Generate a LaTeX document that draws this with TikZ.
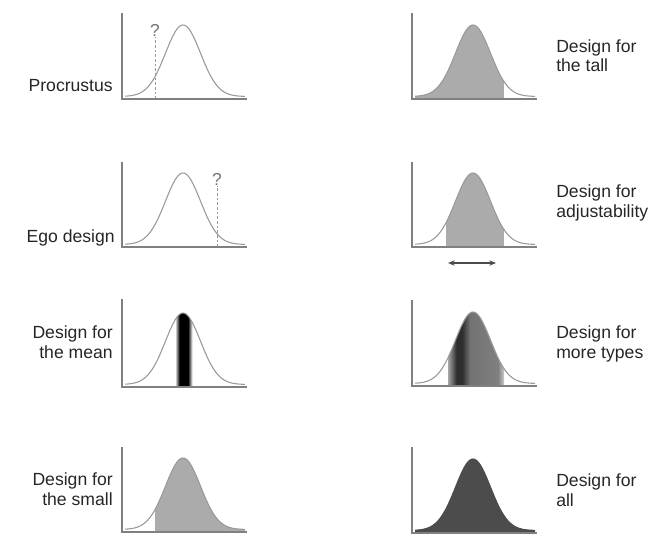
\documentclass[tikz,border=0pt]{standalone}
\usepackage{fontspec}
\setmainfont{Liberation Sans}
\usetikzlibrary{arrows.meta}
\definecolor{axisgray}{gray}{0.5}
\definecolor{curvegray}{gray}{0.6}
\definecolor{fillgray}{gray}{0.67}
\definecolor{darkfill}{gray}{0.3}
\tikzset{
  axisline/.style={draw=axisgray, line width=1.1pt},
  curveline/.style={draw=curvegray, line width=0.8pt},
  qline/.style={draw=curvegray, line width=0.6pt, dash pattern=on 2pt off 1.5pt},
  lbl/.style={font=\fontsize{13.2}{14.6}\selectfont, text=black!85, inner sep=0pt},
  qmark/.style={font=\fontsize{13}{14}\selectfont, text=black!55, inner sep=0pt},
}
\newcommand{\gausspath}{plot[domain=3:123, samples=80, smooth] (\x, {2.5+71.5*exp(-((\x-61)^2)/(2*17.5^2))})}
\begin{document}
\begin{tikzpicture}[x=0.75pt, y=-0.75pt]
\useasboundingbox (0,0) rectangle (664,535);

% ---------- Procrustus ----------
\begin{scope}[shift={(122,99)}, yscale=-1]
  \draw[curveline] \gausspath;
  \coordinate (q1a) at (33,0); \coordinate (q1b) at (33,62);
  \draw[qline] (q1a) -- (q1b);
  \node[qmark] (q1) at (33,69) {?};
  \coordinate (o1) at (0,0); \coordinate (t1) at (0,86); \coordinate (r1) at (125,0);
  \draw[axisline] (t1) -- (o1) -- (r1);
\end{scope}
\node[lbl, anchor=base east] (L1) at (113,92) {Procrustus};

% ---------- Ego design ----------
\begin{scope}[shift={(122,247)}, yscale=-1]
  \draw[curveline] \gausspath;
  \coordinate (q2a) at (95,0); \coordinate (q2b) at (95,61);
  \draw[qline] (q2a) -- (q2b);
  \node[qmark] (q2) at (95,68) {?};
  \coordinate (o2) at (0,0); \coordinate (t2) at (0,85); \coordinate (r2) at (125,0);
  \draw[axisline] (t2) -- (o2) -- (r2);
\end{scope}
\node[lbl, anchor=base east] (L2) at (115,242) {Ego design};

% ---------- Design for the mean ----------
\begin{scope}[shift={(122,387)}, yscale=-1]
  \begin{scope}
    \clip \gausspath -- (123,0) -- (3,0) -- cycle;
    \shade[left color=white, right color=black] (53,0) rectangle (57.5,80);
    \fill[black] (57.5,0) rectangle (66,80);
    \shade[left color=black, right color=white] (66,0) rectangle (70.5,80);
  \end{scope}
  \draw[curveline] \gausspath;
  \coordinate (o3) at (0,0); \coordinate (t3) at (0,88); \coordinate (r3) at (125,0);
  \draw[axisline] (t3) -- (o3) -- (r3);
\end{scope}
\node[lbl, anchor=base east, align=right] (L3) at (113,358) {Design for\\the mean};

% ---------- Design for the small ----------
\begin{scope}[shift={(122,532)}, yscale=-1]
  \begin{scope}
    \clip \gausspath -- (123,0) -- (3,0) -- cycle;
    \fill[fillgray] (33,0) rectangle (125,80);
  \end{scope}
  \draw[curveline] \gausspath;
  \coordinate (o4) at (0,0); \coordinate (t4) at (0,85); \coordinate (r4) at (125,0);
  \draw[axisline] (t4) -- (o4) -- (r4);
\end{scope}
\node[lbl, anchor=base east, align=right] (L4) at (113,505) {Design for\\the small};

% ---------- Design for the tall ----------
\begin{scope}[shift={(412,99)}, yscale=-1]
  \begin{scope}
    \clip \gausspath -- (123,0) -- (3,0) -- cycle;
    \fill[fillgray] (0,0) rectangle (92,80);
  \end{scope}
  \draw[curveline] \gausspath;
  \coordinate (o5) at (0,0); \coordinate (t5) at (0,86); \coordinate (r5) at (125,0);
  \draw[axisline] (t5) -- (o5) -- (r5);
\end{scope}
\node[lbl, anchor=base west, align=left] (L5) at (556,72) {Design for\\the tall};

% ---------- Design for adjustability ----------
\begin{scope}[shift={(412,247)}, yscale=-1]
  \begin{scope}
    \clip \gausspath -- (123,0) -- (3,0) -- cycle;
    \fill[fillgray] (34,0) rectangle (92,80);
  \end{scope}
  \draw[curveline] \gausspath;
  \coordinate (o6) at (0,0); \coordinate (t6) at (0,85); \coordinate (r6) at (125,0);
  \draw[axisline] (t6) -- (o6) -- (r6);
  \coordinate (a6l) at (36,-16); \coordinate (a6r) at (84,-16);
  \draw[draw=black!70, line width=1pt, {Stealth[length=5pt,width=4pt]}-{Stealth[length=5pt,width=4pt]}] (a6l) -- (a6r);
\end{scope}
\node[lbl, anchor=base west, align=left] (L6) at (556,217) {Design for\\adjustability};

% ---------- Design for more types ----------
\begin{scope}[shift={(412,386)}, yscale=-1]
  \begin{scope}
    \clip \gausspath -- (123,0) -- (3,0) -- cycle;
    \shade[left color=black!35, right color=black!85] (36,0) rectangle (45,80);
    \fill[black!82] (45,0) rectangle (50,80);
    \shade[left color=black!82, right color=black!55] (50,0) rectangle (58,80);
    \shade[left color=black!55, right color=black!50] (58,0) rectangle (86,80);
    \shade[left color=black!50, right color=black!20] (86,0) rectangle (92,80);
  \end{scope}
  \draw[curveline] \gausspath;
  \coordinate (o7) at (0,0); \coordinate (t7) at (0,86); \coordinate (r7) at (125,0);
  \draw[axisline] (t7) -- (o7) -- (r7);
\end{scope}
\node[lbl, anchor=base west, align=left] (L7) at (556,358) {Design for\\more types};

% ---------- Design for all ----------
\begin{scope}[shift={(412,533)}, yscale=-1]
  \fill[darkfill] \gausspath -- (123,0) -- (3,0) -- cycle;
  \draw[draw=darkfill, line width=0.8pt] \gausspath;
  \coordinate (o8) at (0,0); \coordinate (t8) at (0,86); \coordinate (r8) at (125,0);
  \draw[axisline] (t8) -- (o8) -- (r8);
\end{scope}
\node[lbl, anchor=base west, align=left] (L8) at (556,506) {Design for\\all};

\end{tikzpicture}
\end{document}
